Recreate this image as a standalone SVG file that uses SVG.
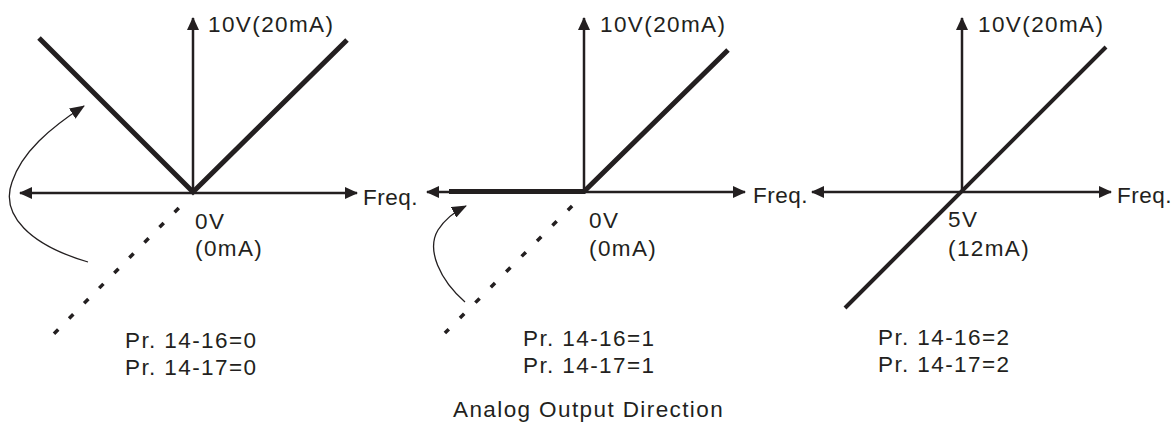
<svg xmlns="http://www.w3.org/2000/svg" width="1176" height="423" viewBox="0 0 1176 423">
<defs>
<style>
.ax{stroke:#231f20;stroke-width:2.5;fill:none}
.thick{stroke:#231f20;stroke-width:5;fill:none;stroke-linecap:butt}
.mid{stroke:#231f20;stroke-width:4;fill:none}
.dot{stroke:#231f20;stroke-width:3.5;fill:none;stroke-dasharray:6 15.4}
.curve{stroke:#231f20;stroke-width:1.3;fill:none}
text{font-family:"Liberation Sans",Arial,sans-serif;font-size:22.5px;fill:#231f20;letter-spacing:1.4px}
text.fq{letter-spacing:0.5px}
</style>
<marker id="ah" markerUnits="userSpaceOnUse" markerWidth="13" markerHeight="12" refX="12" refY="6" orient="auto-start-reverse">
<path d="M0,0 L13,6 L0,12 Z" fill="#231f20"/>
</marker>
<marker id="ch" markerUnits="userSpaceOnUse" markerWidth="15" markerHeight="12" refX="14" refY="6" orient="auto">
<path d="M0,0 L15,6 L0,12 Z" fill="#231f20"/>
</marker>
</defs>
<rect width="1176" height="423" fill="#ffffff"/>
<g id="connectors">
<line class="ax" x1="20" y1="193" x2="357" y2="193" marker-start="url(#ah)" marker-end="url(#ah)"/>
<line class="ax" x1="193" y1="194" x2="193" y2="18" marker-end="url(#ah)"/>
<line class="ax" x1="427" y1="192" x2="745" y2="192" marker-start="url(#ah)" marker-end="url(#ah)"/>
<line class="ax" x1="584" y1="193" x2="584" y2="18" marker-end="url(#ah)"/>
<line class="ax" x1="812" y1="192" x2="1111" y2="192" marker-start="url(#ah)" marker-end="url(#ah)"/>
<line class="ax" x1="962" y1="193" x2="962" y2="18" marker-end="url(#ah)"/>
<path class="curve" d="M88,262 C30,245 0,215 12,182 C22,152 50,128 84,106" marker-end="url(#ch)"/>
<path class="curve" d="M465,302 C440,280 426,250 438,230 C445,219 454,212 466,206" marker-end="url(#ch)"/>
</g>
<g id="panel1">
<polyline class="thick" points="39,38 193,192 347,40"/>
<line class="dot" x1="178.8" y1="207.9" x2="53.9" y2="333.8"/>
<text x="208" y="32">10V(20mA)</text>
<text class="fq" x="363" y="205">Freq.</text>
<text x="195" y="229">0V</text>
<text x="195" y="256">(0mA)</text>
<text x="125" y="348">Pr. 14-16=0</text>
<text x="125" y="375">Pr. 14-17=0</text>
</g>
<g id="panel2">
<polyline class="thick" points="449,191.5 584,191.5 728,50"/>
<line class="dot" x1="572.1" y1="205.9" x2="444.9" y2="333.1" style="stroke-dasharray:6 15.8"/>
<text x="600" y="32">10V(20mA)</text>
<text class="fq" x="753" y="203">Freq.</text>
<text x="589" y="228">0V</text>
<text x="589" y="256">(0mA)</text>
<text x="523" y="346">Pr. 14-16=1</text>
<text x="523" y="373">Pr. 14-17=1</text>
</g>
<g id="panel3">
<line class="mid" x1="1106" y1="47" x2="845" y2="308"/>
<text x="978" y="32">10V(20mA)</text>
<text class="fq" x="1117" y="203">Freq.</text>
<text x="948" y="227">5V</text>
<text x="948" y="256">(12mA)</text>
<text x="878" y="345">Pr. 14-16=2</text>
<text x="878" y="372">Pr. 14-17=2</text>
</g>
<g id="caption">
<text x="453" y="417">Analog Output Direction</text>
</g>
</svg>
